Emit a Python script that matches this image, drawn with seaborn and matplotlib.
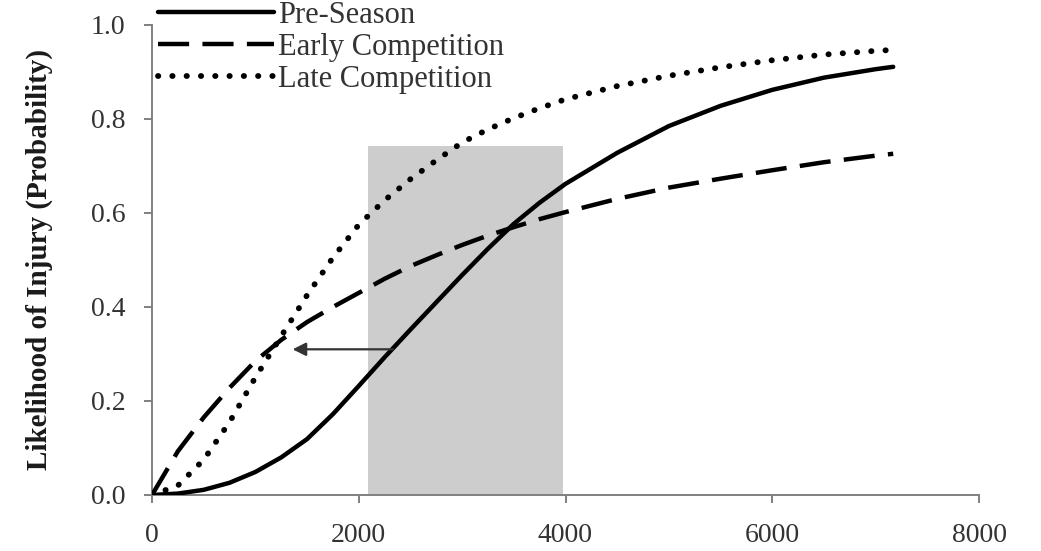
import matplotlib
matplotlib.use("Agg")
import matplotlib.pyplot as plt
import seaborn as sns
import pandas as pd
from matplotlib.patches import Rectangle

# ---- data ----
load = [0, 250, 500, 750, 1000, 1250, 1500, 1750, 2000, 2250, 2500, 2750,
        3000, 3250, 3500, 3750, 4000, 4500, 5000, 5500, 6000, 6500, 7000, 7170]
pre_season = [0.0, 0.003, 0.011, 0.026, 0.049, 0.08, 0.119, 0.172, 0.232, 0.293,
              0.352, 0.41, 0.468, 0.524, 0.577, 0.622, 0.662, 0.728, 0.785,
              0.828, 0.862, 0.888, 0.906, 0.911]
early_comp = [0.0, 0.093, 0.165, 0.228, 0.285, 0.33, 0.368, 0.4, 0.43, 0.46,
              0.487, 0.51, 0.532, 0.552, 0.57, 0.587, 0.602, 0.63, 0.654,
              0.673, 0.691, 0.708, 0.722, 0.726]
late_comp = [0.0, 0.02, 0.075, 0.155, 0.25, 0.338, 0.425, 0.505, 0.575, 0.627,
             0.672, 0.712, 0.75, 0.778, 0.802, 0.823, 0.842, 0.87, 0.892,
             0.91, 0.925, 0.937, 0.945, 0.947]
series_names = ["Pre-Season", "Early Competition", "Late Competition"]

shade_x = [2090, 3975]      # grey band (x range)
shade_top = 0.742           # grey band height
arrow_y = 0.31
arrow_from_x = 2330
arrow_to_x = 1360

x_ticks = [0, 2000, 4000, 6000, 8000]
y_ticks = [0.0, 0.2, 0.4, 0.6, 0.8, 1.0]
y_label = "Likelihood of Injury (Probability)"

# ---- styling ----
sns.set_theme(style="white")
plt.rcParams["font.family"] = ["Liberation Serif", "DejaVu Serif"]

fig = plt.figure(figsize=(10.41, 5.51), dpi=100)
ax = fig.add_axes([152 / 1041, 1 - 495 / 551, 827 / 1041, 470 / 551])

spine_col = "#808080"

ax.add_patch(Rectangle((shade_x[0], 0), shade_x[1] - shade_x[0], shade_top,
                       facecolor="#cdcdcd", edgecolor="none", zorder=1))

df = pd.DataFrame({"load": load, series_names[0]: pre_season,
                   series_names[1]: early_comp, series_names[2]: late_comp})

styles = {
    series_names[0]: dict(linestyle="-", lw=3.2),
    series_names[1]: dict(linestyle=(0, (7.0, 3.0)), lw=3.2),
    series_names[2]: dict(linestyle=(0, (0.05, 2.4)), dash_capstyle="round",
                          lw=4.2),
}
for name in series_names:
    sns.lineplot(data=df, x="load", y=name, ax=ax, color="black",
                 label=name, zorder=3, **styles[name])

ax.annotate("", xy=(arrow_to_x, arrow_y), xytext=(arrow_from_x, arrow_y),
            arrowprops=dict(arrowstyle="-|>", lw=1.6, color="#333333",
                            mutation_scale=20, shrinkA=0, shrinkB=0),
            zorder=4)

ax.set_xlim(0, 8000)
ax.set_ylim(0, 1.0)
ax.set_xticks(x_ticks)
ax.set_xticklabels([str(t) for t in x_ticks])
ax.set_yticks(y_ticks)
ax.set_yticklabels([f"{t:.1f}" for t in y_ticks])
ax.set_xlabel("")
ax.set_ylabel(y_label, fontsize=21, fontweight="bold", color="#1a1a1a",
              labelpad=27)

for s in ["top", "right"]:
    ax.spines[s].set_visible(False)
for s in ["left", "bottom"]:
    ax.spines[s].set_color(spine_col)
    ax.spines[s].set_linewidth(1.4)

ax.tick_params(axis="both", which="major", direction="out", length=6,
               width=1.4, color=spine_col, labelsize=20, labelcolor="#333333")
ax.tick_params(axis="x", pad=14, bottom=True)
ax.tick_params(axis="y", pad=13, left=True)

leg = ax.legend(loc="upper left", bbox_to_anchor=(158 / 1041, 0.998),
                bbox_transform=fig.transFigure, frameon=False, fontsize=22,
                handlelength=3.8, handletextpad=0.12, labelspacing=0.09,
                borderpad=0, borderaxespad=0)
for t in leg.get_texts():
    t.set_color("#333333")

fig.savefig("out.png", dpi=100)
